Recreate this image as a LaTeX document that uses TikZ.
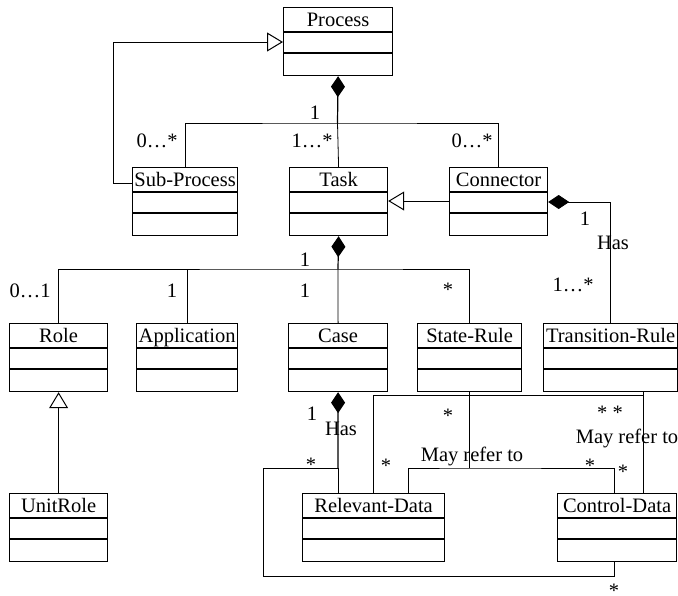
\documentclass[tikz,border=0pt]{standalone}
\usepackage{fontspec}
\setmainfont{Liberation Serif}
\usetikzlibrary{arrows.meta}
\tikzset{
  cls/.style={draw, line width=1.2pt, inner sep=0pt, minimum height=68pt, anchor=north west},
  lnk/.style={line width=0.8pt},
  inh/.style={lnk, -{Triangle[open, length=16pt, width=19pt, line width=1pt]}},
  comp/.style={line width=1.2pt, {Diamond[length=21pt, width=14pt]}-},
  lbl/.style={inner sep=0pt, text height=14pt, text depth=0pt, font=\fontsize{20.5}{24}\selectfont},
  stars/.style={lbl, text height=8.5pt}
}
\begin{document}
\begin{tikzpicture}[x=1pt, y=-1pt]
\useasboundingbox (0,0) rectangle (678,595);
% classes
\foreach \n/\t/\x/\y/\w in {Process/Process/283/7/109, SubProcess/Sub-Process/132/167/105,
    Task/Task/289/167/98, Connector/Connector/449/167/98, Role/Role/9/323/98,
    Application/Application/136/323/101, Case/Case/288/323/99, StateRule/State-Rule/417/323/104,
    TransitionRule/Transition-Rule/543/323/134, UnitRole/UnitRole/9/493/98,
    RelevantData/Relevant-Data/302/493/142, ControlData/Control-Data/557/493/119}{
  \node[cls, minimum width=\w pt] (\n) at (\x,\y) {};
  \draw[line width=1.2pt] (\n.north west) ++(0,25) -- ++(\w,0) ++(-\w,21) -- ++(\w,0);
  \node[lbl] (\n-name) at ([yshift=-12.5pt]\n.north) {\t};
}
% junctions
\coordinate (j1) at (337.5,123);
\coordinate (j2) at (338,269);
\coordinate (j3) at (338,468);
\coordinate (j4) at (StateRule.south |- j3);
\coordinate (k1) at (263,576);
% composition
\draw[comp] (Process.south) -- (j1);
\draw[lnk] (j1) -- (Task.north);
\draw[lnk] (SubProcess.north) |- (j1) -| (Connector.north);
\draw[comp] (Task.south) -- (j2);
\draw[lnk] (j2) -- (Case.north);
\draw[lnk] (Role.north) |- (j2) -| (StateRule.north);
\draw[lnk] (Application.north) -- (Application.north |- j2);
\draw[lnk, {Diamond[length=21pt, width=14pt]}-] ([yshift=-35pt]Connector.north east) -| (TransitionRule.north);
\draw[comp] (Case.south) -- (j3);
\draw[lnk] (j3) -- (RelevantData.north -| j3);
\draw[lnk] (j3) -| (k1) -| ([xshift=57pt]ControlData.south west);
% generalisation
\draw[inh] ([yshift=-34pt]Connector.north west) -- ([yshift=-34pt]Task.north east);
\draw[inh] ([yshift=-16pt]SubProcess.north west) -- ++(-19,0) |- ([yshift=-35pt]Process.north west);
\draw[inh] (UnitRole.north) -- (Role.south);
% references
\draw[lnk] (StateRule.south) -- (j4);
\draw[lnk] ([xshift=106pt]RelevantData.north west) |- (j4) -| ([xshift=57pt]ControlData.north west);
\draw[lnk] ([xshift=100pt]TransitionRule.south west) -- ([xshift=86pt]ControlData.north west);
\draw[lnk] ([xshift=71pt]RelevantData.north west) |- ([xshift=100pt,yshift=-3pt]TransitionRule.south west);
% multiplicities
\foreach \x/\y/\t [count=\i] in {315/112/1, 157/140/0…*, 312/140/1…*, 472/140/0…*,
    585/218/1, 613/242/Has, 573/284/1…*, 305/259/1, 30/290/0…1, 172/290/1, 305/290/1,
    312/413/1, 341/428/Has, 472/454/May refer to, 627/436/May refer to}
  \node[lbl] (m\i) at (\x,\y) {\t};
\foreach \x/\y/\t [count=\i] in {448/287/*, 311/462/*, 386/463/*, 448/413/*, 610/410/* *,
    590/463/*, 623/469/*, 614/588/*}
  \node[stars] (s\i) at (\x,\y) {\raisebox{-5.5pt}{\t}};
\end{tikzpicture}
\end{document}
